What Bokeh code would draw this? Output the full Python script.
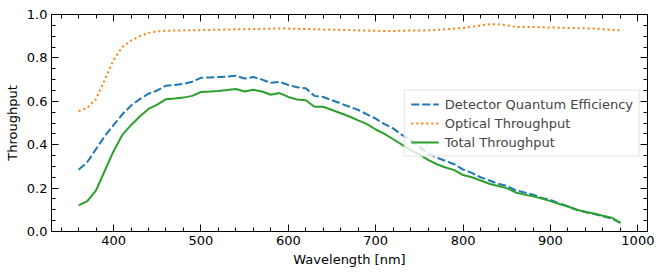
from bokeh.plotting import figure
from bokeh.models import LinearAxis, Range1d, Legend, LegendItem, FixedTicker, CustomJSTickFormatter
from bokeh.embed import file_html
from bokeh.resources import INLINE

wavelength = list(range(360, 981, 10))

detector_qe = [0.285, 0.32, 0.38, 0.44, 0.49, 0.54, 0.58, 0.61, 0.635, 0.65,
               0.672, 0.675, 0.68, 0.69, 0.708, 0.71, 0.712, 0.714, 0.718, 0.705,
               0.712, 0.70, 0.685, 0.69, 0.675, 0.665, 0.66, 0.625, 0.62, 0.605,
               0.59, 0.575, 0.56, 0.54, 0.52, 0.495, 0.475, 0.445, 0.42, 0.39,
               0.36, 0.34, 0.325, 0.31, 0.285, 0.27, 0.25, 0.235, 0.22, 0.21,
               0.19, 0.18, 0.17, 0.155, 0.145, 0.13, 0.115, 0.10, 0.09, 0.08,
               0.07, 0.06, 0.04]

optical = [0.555, 0.57, 0.61, 0.70, 0.79, 0.85, 0.88, 0.90, 0.915, 0.922,
           0.925, 0.926, 0.927, 0.927, 0.928, 0.929, 0.930, 0.931, 0.932, 0.932,
           0.933, 0.934, 0.935, 0.935, 0.935, 0.934, 0.933, 0.932, 0.931, 0.930,
           0.929, 0.928, 0.927, 0.926, 0.925, 0.924, 0.924, 0.925, 0.926, 0.926,
           0.927, 0.929, 0.932, 0.935, 0.938, 0.943, 0.950, 0.955, 0.955, 0.950,
           0.943, 0.942, 0.942, 0.941, 0.940, 0.939, 0.938, 0.937, 0.936, 0.935,
           0.932, 0.929, 0.927]

total = [0.12, 0.14, 0.19, 0.28, 0.37, 0.445, 0.49, 0.53, 0.565, 0.585,
         0.61, 0.613, 0.617, 0.625, 0.643, 0.645, 0.648, 0.652, 0.657, 0.645,
         0.653, 0.645, 0.63, 0.638, 0.62, 0.608, 0.605, 0.575, 0.575, 0.56,
         0.545, 0.53, 0.512, 0.495, 0.47, 0.45, 0.425, 0.40, 0.375, 0.355,
         0.33, 0.31, 0.295, 0.283, 0.26, 0.25, 0.235, 0.22, 0.21, 0.20,
         0.18, 0.17, 0.162, 0.152, 0.14, 0.127, 0.115, 0.10, 0.09, 0.083,
         0.073, 0.064, 0.04]

x_ticks = [400, 500, 600, 700, 800, 900, 1000]
y_ticks = [0.0, 0.2, 0.4, 0.6, 0.8, 1.0]

FONT = "DejaVu Sans"

p = figure(width=656, height=269, output_backend="svg", toolbar_location=None,
           x_range=Range1d(329, 1011), y_range=Range1d(0, 1),
           min_border_left=51, min_border_right=9, min_border_top=14, min_border_bottom=38)
p.xgrid.visible = False
p.ygrid.visible = False
p.outline_line_color = "black"
p.outline_line_width = 1
p.background_fill_color = "white"
p.border_fill_color = "white"

minor_x = [v for v in range(340, 1011, 20) if v % 100 != 0]
minor_y = [round(v * 0.05, 2) for v in range(0, 21) if v % 4 != 0]


def setup(ax, major, minor, labels):
    ax.ticker = FixedTicker(ticks=major, minor_ticks=minor)
    ax.major_tick_in = 7
    ax.major_tick_out = 0
    ax.minor_tick_in = 4
    ax.minor_tick_out = 0
    ax.axis_line_color = "black"
    ax.major_tick_line_color = "black"
    ax.minor_tick_line_color = "black"
    ax.axis_line_width = 1
    ax.major_tick_line_width = 1
    ax.minor_tick_line_width = 1
    if labels:
        ax.major_label_text_font = FONT
        ax.major_label_text_font_size = "13px"
        ax.major_label_text_color = "black"
        ax.axis_label_text_font = FONT
        ax.axis_label_text_font_size = "13px"
        ax.axis_label_text_font_style = "normal"
        ax.axis_label_text_color = "black"
    else:
        ax.major_label_text_font_size = "0px"
        ax.major_label_standoff = 0
        ax.major_label_overrides = {t: "" for t in major}
        ax.formatter = CustomJSTickFormatter(code="return '';")


p.xaxis[0].axis_label = "Wavelength [nm]"
p.yaxis[0].axis_label = "Throughput"
setup(p.xaxis[0], x_ticks, minor_x, True)
setup(p.yaxis[0], y_ticks, minor_y, True)
p.xaxis[0].major_label_standoff = 4
p.xaxis[0].axis_label_standoff = 4
p.yaxis[0].major_label_standoff = 4
p.yaxis[0].axis_label_standoff = 4
p.yaxis[0].formatter = CustomJSTickFormatter(code="return tick.toFixed(1);")

top = LinearAxis()
right = LinearAxis()
setup(top, x_ticks, minor_x, False)
setup(right, y_ticks, minor_y, False)
p.add_layout(top, "above")
p.add_layout(right, "right")

r1 = p.line(wavelength, detector_qe, line_color="#1f77b4", line_width=2, line_dash="8 3")
r2 = p.line(wavelength, optical, line_color="#ff7f0e", line_width=2, line_dash="2 3")
r3 = p.line(wavelength, total, line_color="#2ca02c", line_width=2)

legend = Legend(items=[LegendItem(label="Detector Quantum Efficiency", renderers=[r1]),
                       LegendItem(label="Optical Throughput", renderers=[r2]),
                       LegendItem(label="Total Throughput", renderers=[r3])],
                location="center_right")
legend.label_text_font = FONT
legend.label_text_font_size = "13px"
legend.label_height = 15
legend.glyph_height = 15
legend.glyph_width = 28
legend.spacing = 4
legend.padding = 6
legend.margin = 7
legend.label_standoff = 6
legend.border_line_color = "#cccccc"
legend.border_line_width = 1
legend.background_fill_alpha = 0.8
p.add_layout(legend)

open("out.html", "w").write(file_html(p, INLINE))
